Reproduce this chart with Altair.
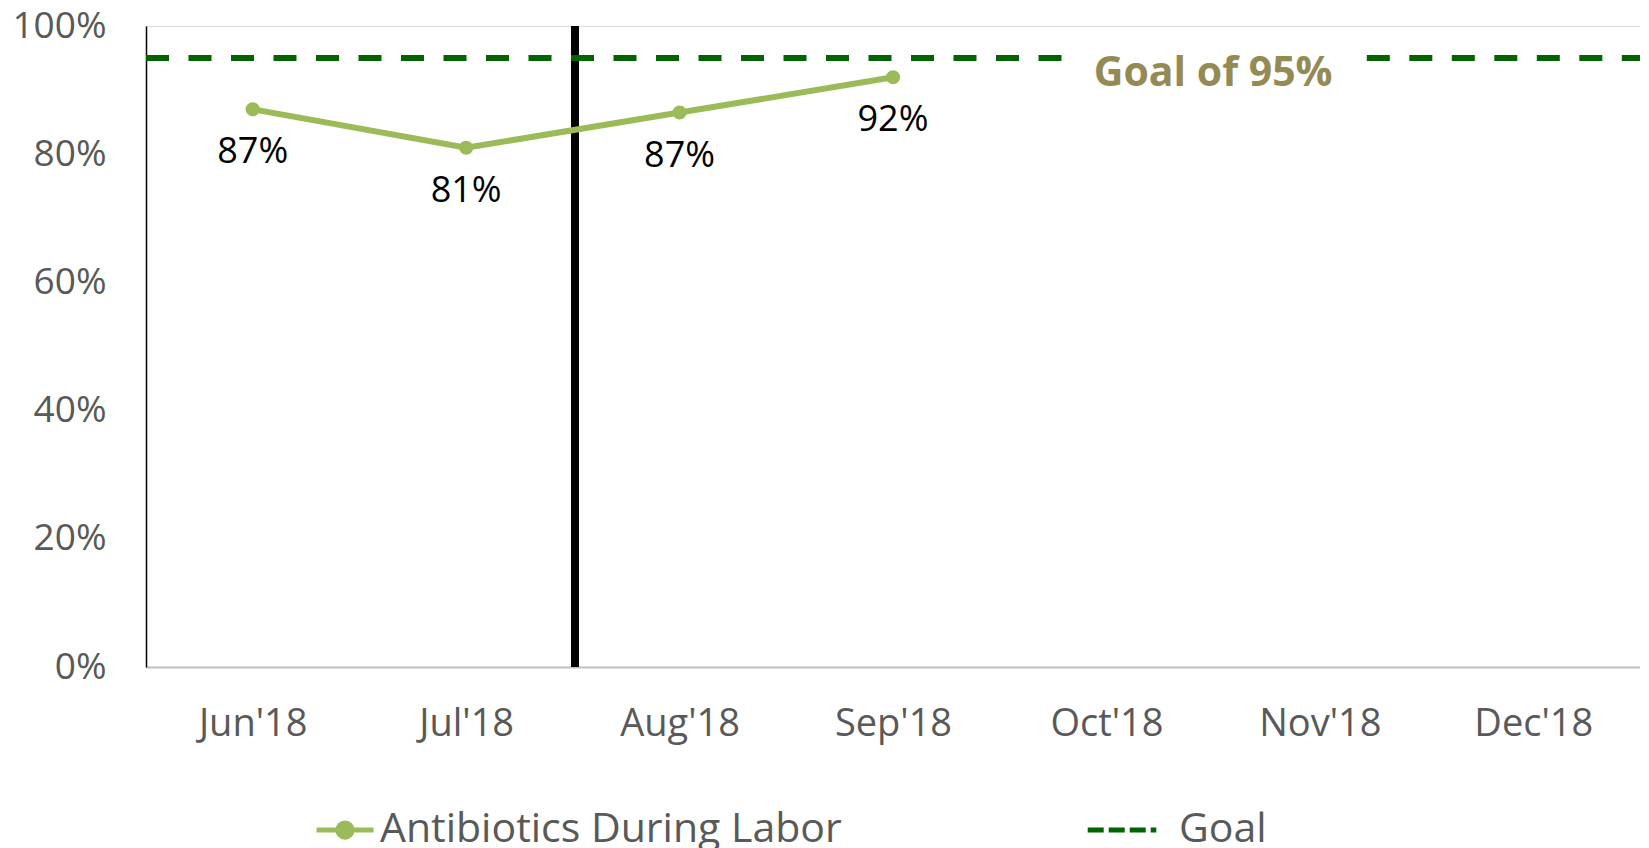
import json
import altair as alt
import pandas as pd

# ---- data ----
months = ["Jun'18", "Jul'18", "Aug'18", "Sep'18", "Oct'18", "Nov'18", "Dec'18"]
rate_months = [0, 1, 2, 3]                 # index into months
rates = [0.87, 0.81, 0.865, 0.92]
rate_labels = ["87%", "81%", "87%", "92%"]
series_name = "Antibiotics During Labor"

goal_value = 0.95
goal_name = "Goal"
goal_label = "Goal of 95%"
goal_label_at = 4.5                        # between Oct'18 and Nov'18
goal_seg_start = [-0.5, 5.22]              # dashed goal line is broken round its label
goal_seg_end = [3.79, 6.5]

phase_split = [1.51]                       # vertical marker between Jul'18 and Aug'18

y_ticks = [0, 0.2, 0.4, 0.6, 0.8, 1.0]

GREEN = "#9BBB59"
GOAL_GREEN = "#006400"
TAN = "#948A54"
GRAY = "#595959"
FONT = "Open Sans"

rate_df = pd.DataFrame({"m": rate_months, "rate": rates, "label": rate_labels,
                        "series": series_name})
goal_df = pd.DataFrame({"x": goal_seg_start, "x2": goal_seg_end,
                        "y": [goal_value] * len(goal_seg_start), "series": goal_name})
split_df = pd.DataFrame({"x": phase_split})
goal_label_df = pd.DataFrame({"x": [goal_label_at], "y": [goal_value], "t": [goal_label]})

x_scale = alt.Scale(domain=[-0.5, len(months) - 0.5], nice=False, zero=False)
y_scale = alt.Scale(domain=[0, 1], nice=False)

x_axis = alt.Axis(
    values=list(range(len(months))),
    labelExpr=f"{json.dumps(months)}[datum.value]",
    title=None, ticks=False, grid=False,
    domainColor="#BFBFBF", domainWidth=2,
    labelFont=FONT, labelFontSize=38, labelColor=GRAY,
    labelBaseline="middle", labelPadding=57,
)
y_axis = alt.Axis(
    values=y_ticks, format=".0%", title=None, ticks=False,
    domainColor="black", domainWidth=1.5,
    gridColor=alt.condition("datum.value >= 1 || datum.value <= 0",
                            alt.value("rgba(0,0,0,0)"), alt.value("#D9D9D9")),
    gridWidth=1.2,
    labelFont=FONT, labelFontSize=37, labelColor=GRAY, labelPadding=40,
)

base_x = alt.X("x:Q", scale=x_scale, axis=x_axis)

goal_rule = alt.Chart(goal_df).mark_rule(
    strokeWidth=6, strokeDash=[23, 19.5]
).encode(
    x=base_x,
    x2="x2:Q",
    y=alt.Y("y:Q", scale=y_scale, axis=y_axis),
    stroke=alt.Stroke(
        "series:N",
        scale=alt.Scale(domain=[goal_name], range=[GOAL_GREEN]),
        legend=alt.Legend(
            title=None, orient="none", legendX=939, legendY=767,
            symbolType="stroke", symbolSize=4700, symbolStrokeWidth=5,
            symbolDash=[16, 5], symbolStrokeColor=GOAL_GREEN,
            labelFont=FONT, labelFontSize=41, labelColor=GRAY, labelLimit=0,
            labelOffset=20, padding=0, rowPadding=0,
        ),
    ),
)

split_rule = alt.Chart(split_df).mark_rule(color="black", strokeWidth=8).encode(
    x=alt.X("x:Q", scale=x_scale, axis=x_axis),
    y=alt.datum(0, scale=y_scale),
    y2=alt.datum(1),
)

line = alt.Chart(rate_df).mark_line(
    strokeWidth=6, point=alt.OverlayMarkDef(filled=True, size=200, color=GREEN)
).encode(
    x=alt.X("m:Q", scale=x_scale, axis=x_axis),
    y=alt.Y("rate:Q", scale=y_scale, axis=y_axis),
    color=alt.Color(
        "series:N",
        scale=alt.Scale(domain=[series_name], range=[GREEN]),
        legend=alt.Legend(
            title=None, orient="none", legendX=168, legendY=773,
            symbolType="M-1,0H1M0.25,0A0.25,0.25,0,1,1,-0.25,0A0.25,0.25,0,1,1,0.25,0Z",
            symbolSize=3249, symbolStrokeWidth=5,
            symbolFillColor=GREEN, symbolStrokeColor=GREEN,
            labelFont=FONT, labelFontSize=41, labelColor=GRAY, labelLimit=0,
            labelOffset=4, padding=0, rowPadding=0,
        ),
    ),
)

labels = alt.Chart(rate_df).mark_text(
    font=FONT, fontSize=36, color="black", dy=43, baseline="middle"
).encode(
    x=alt.X("m:Q", scale=x_scale),
    y=alt.Y("rate:Q", scale=y_scale),
    text="label:N",
)

goal_text = alt.Chart(goal_label_df).mark_text(
    font=FONT, fontSize=41, fontWeight="bold", color=TAN, dy=16, baseline="middle"
).encode(
    x=alt.X("x:Q", scale=x_scale),
    y=alt.Y("y:Q", scale=y_scale),
    text="t:N",
)

chart = alt.layer(split_rule, goal_rule, line, labels, goal_text).resolve_legend(
    color="independent", stroke="independent"
).properties(
    width=1494, height=641,
    padding={"left": 138, "top": 18, "right": 0, "bottom": 181},
    autosize=alt.AutoSizeParams(type="none"),
).configure_view(stroke="black", strokeWidth=1.5).configure(background="white")

chart.save("out.html", embed_options={"renderer": "svg", "actions": False})
